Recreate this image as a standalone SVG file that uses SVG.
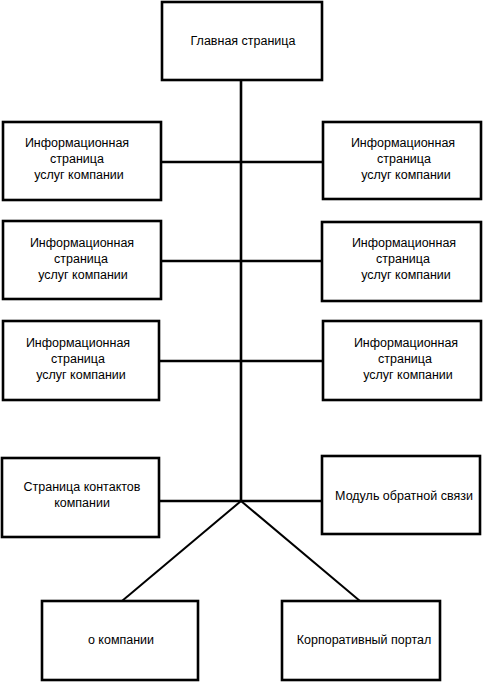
<svg xmlns="http://www.w3.org/2000/svg" width="483" height="683" viewBox="0 0 483 683">
<style>
.box{fill:#fff;stroke:#000;stroke-width:2.6}
.ln{stroke:#000;stroke-width:2.6;fill:none}
.dg{stroke:#000;stroke-width:2;fill:none}
text{font-family:"Liberation Sans",Arial,sans-serif;font-size:12.5px;fill:#000;text-anchor:middle}
</style>
<rect width="483" height="683" fill="#fff"/>
<g id="connectors">
<line class="ln" x1="241" y1="80" x2="241" y2="501"/>
<line class="ln" x1="161" y1="162" x2="323" y2="162"/>
<line class="ln" x1="160" y1="261" x2="322" y2="261"/>
<line class="ln" x1="158" y1="361" x2="323" y2="361"/>
<line class="ln" x1="160" y1="501" x2="322" y2="501"/>
<line class="dg" x1="241" y1="501" x2="122" y2="601"/>
<line class="dg" x1="241" y1="501" x2="360" y2="601"/>
</g>
<g id="main">
<rect class="box" x="162" y="2" width="160" height="78"/>
<text x="243" y="45">Главная страница</text>
</g>
<g id="info-l1">
<rect class="box" x="3" y="122" width="158" height="78"/>
<text x="77" y="147">Информационная</text>
<text x="77" y="163">страница</text>
<text x="79" y="179">услуг компании</text>
</g>
<g id="info-r1">
<rect class="box" x="323" y="122" width="158" height="77"/>
<text x="403" y="147">Информационная</text>
<text x="404" y="163">страница</text>
<text x="406" y="179">услуг компании</text>
</g>
<g id="info-l2">
<rect class="box" x="3" y="221" width="158" height="78"/>
<text x="82" y="247">Информационная</text>
<text x="81" y="263">страница</text>
<text x="83" y="279">услуг компании</text>
</g>
<g id="info-r2">
<rect class="box" x="322" y="222" width="159" height="79"/>
<text x="404" y="247">Информационная</text>
<text x="403" y="263">страница</text>
<text x="406" y="279">услуг компании</text>
</g>
<g id="info-l3">
<rect class="box" x="3" y="321" width="156" height="79"/>
<text x="78" y="347">Информационная</text>
<text x="78" y="363">страница</text>
<text x="81" y="379">услуг компании</text>
</g>
<g id="info-r3">
<rect class="box" x="323" y="321" width="158" height="79"/>
<text x="406" y="347">Информационная</text>
<text x="405" y="363">страница</text>
<text x="408" y="379">услуг компании</text>
</g>
<g id="contacts">
<rect class="box" x="2" y="458" width="157" height="79"/>
<text x="82" y="491">Страница контактов</text>
<text x="82" y="507">компании</text>
</g>
<g id="feedback">
<rect class="box" x="322" y="456" width="158" height="78"/>
<text x="404" y="500">Модуль обратной связи</text>
</g>
<g id="about">
<rect class="box" x="42" y="601" width="156" height="79"/>
<text x="121" y="644">о компании</text>
</g>
<g id="portal">
<rect class="box" x="282" y="601" width="158" height="79"/>
<text x="364" y="644">Корпоративный портал</text>
</g>
</svg>
